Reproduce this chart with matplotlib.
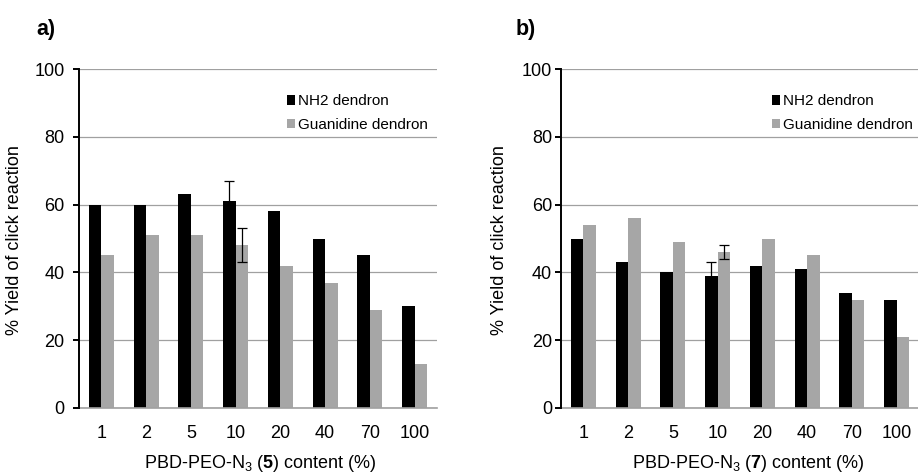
import numpy as np
import matplotlib
matplotlib.use("Agg")
import matplotlib.pyplot as plt

plt.rcParams['font.family'] = ['Liberation Sans', 'DejaVu Sans']
plt.rcParams['mathtext.fontset'] = 'custom'
plt.rcParams['mathtext.rm'] = 'Liberation Sans'
plt.rcParams['mathtext.bf'] = 'Liberation Sans:bold'

# data
contents = ['1', '2', '5', '10', '20', '40', '70', '100']

nh2_a = [60, 60, 63, 61, 58, 50, 45, 30]
guan_a = [45, 51, 51, 48, 42, 37, 29, 13]
nh2_a_err = [0, 0, 0, 6, 0, 0, 0, 0]
guan_a_err = [0, 0, 0, 5, 0, 0, 0, 0]

nh2_b = [50, 43, 40, 39, 42, 41, 34, 32]
guan_b = [54, 56, 49, 46, 50, 45, 32, 21]
nh2_b_err = [0, 0, 0, 4, 0, 0, 0, 0]
guan_b_err = [0, 0, 0, 2, 0, 0, 0, 0]

BLACK = '#000000'
GREY = '#a6a6a6'
GRID = '#a0a0a0'

W, H = 918, 475
fig = plt.figure(figsize=(W / 100, H / 100), dpi=100)


def px(x0, y0, x1, y1):
    """pixel box (top-left origin) -> figure fraction rect"""
    return [x0 / W, 1 - y1 / H, (x1 - x0) / W, (y1 - y0) / H]


def draw_panel(ax, nh2, guan, nh2_err, guan_err, ypad, leg_x):
    x = np.arange(len(contents))
    w = 0.28
    ax.bar(x - w / 2, nh2, w, color=BLACK, label='NH2 dendron', zorder=2)
    ax.bar(x + w / 2, guan, w, color=GREY, label='Guanidine dendron', zorder=2)
    # error bars only where a value was given
    for xs, vals, errs in ((x - w / 2, nh2, nh2_err), (x + w / 2, guan, guan_err)):
        for xi, v, e in zip(xs, vals, errs):
            if e:
                ax.errorbar(xi, v, yerr=e, fmt='none', ecolor='black',
                            elinewidth=0.9, capsize=3.5, capthick=0.9, zorder=3)

    ax.set_xlim(-0.5, len(contents) - 0.5)
    ax.set_ylim(0, 100)
    ax.set_yticks(range(0, 101, 20))
    ax.set_xticks(x)
    ax.set_xticklabels(contents)
    ax.yaxis.grid(True, color=GRID, linewidth=0.9, zorder=0)
    ax.set_axisbelow(True)

    for s in ('top', 'right'):
        ax.spines[s].set_visible(False)
    ax.spines['left'].set_linewidth(1.4)
    ax.spines['left'].set_zorder(4)
    ax.spines['bottom'].set_color(GRID)
    ax.spines['bottom'].set_linewidth(1.2)

    ax.tick_params(axis='x', length=0, pad=12, labelsize=13)
    ax.tick_params(axis='y', length=4.5, width=1.4, direction='out',
                   pad=ypad, labelsize=13)

    ax.legend(loc='upper left', bbox_to_anchor=(leg_x, 0.925), frameon=False,
              fontsize=11, borderpad=0, borderaxespad=0, handlelength=0.55,
              handleheight=0.55, handletextpad=0.2, labelspacing=0.62)


ax_a = fig.add_axes(px(79, 69, 437, 408))
draw_panel(ax_a, nh2_a, guan_a, nh2_a_err, guan_a_err, 6, 0.581)

ax_b = fig.add_axes(px(561, 69, 919, 408))
draw_panel(ax_b, nh2_b, guan_b, nh2_b_err, guan_b_err, 2, 0.589)

# panel letters
fig.text(36 / W, 1 - 30 / H, 'a)', fontsize=15.5, fontweight='bold', va='center')
fig.text(516 / W, 1 - 30 / H, 'b)', fontsize=15.5, fontweight='bold', va='center')

# y labels
for xc in (15, 499):
    fig.text(xc / W, 1 - 240 / H, '% Yield of click reaction', fontsize=13,
             rotation=90, ha='center', va='center')

# x labels
fig.text(260 / W, 1 - 463 / H, r'PBD-PEO-N$_3$ ($\mathbf{5}$) content (%)',
         fontsize=13, ha='center', va='center')
fig.text(748 / W, 1 - 463 / H, r'PBD-PEO-N$_3$ ($\mathbf{7}$) content (%)',
         fontsize=13, ha='center', va='center')

fig.savefig('out.png', dpi=100)
